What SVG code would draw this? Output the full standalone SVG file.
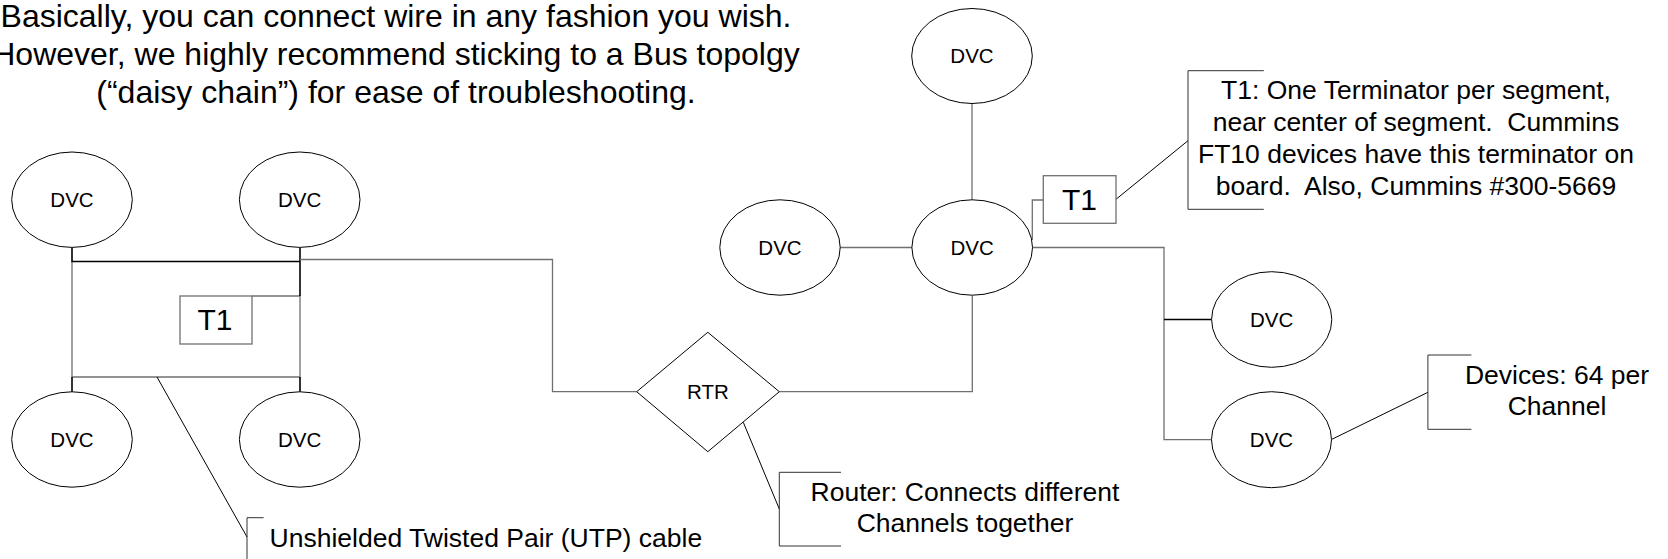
<svg xmlns="http://www.w3.org/2000/svg" width="1668" height="559" viewBox="0 0 1668 559">
<style>
text{font-family:"Liberation Sans",Arial,Helvetica,sans-serif;fill:#000}
.title{font-size:32px;text-anchor:middle}
.note{font-size:26.5px;text-anchor:middle}
.noteL{font-size:26.5px}
.dvc{font-size:20.5px;text-anchor:middle}
.t1{font-size:30px;text-anchor:middle}
.node{fill:#fff;stroke:#000;stroke-width:1}
.box{fill:#fff;stroke:#707070;stroke-width:1.3}
.wire{fill:none;stroke:#707070;stroke-width:1.3}
.blk{fill:none;stroke:#000;stroke-width:1.6}
.lead{fill:none;stroke:#000;stroke-width:1}
.brk{fill:none;stroke:#333;stroke-width:1}
</style>
<rect width="1668" height="559" fill="#fff"/>

<g id="title">
<text class="title" x="396" y="27">Basically, you can connect wire in any fashion you wish.</text>
<text class="title" x="396" y="65">However, we highly recommend sticking to a Bus topolgy</text>
<text class="title" x="396" y="103">(“daisy chain”) for ease of troubleshooting.</text>
</g>

<g id="connectors">
<!-- left cluster -->
<path class="wire" d="M72 261.5 V377 H300 V295"/>
<path class="wire" d="M252 296 H300"/>
<path class="blk" d="M72 247.5 V261.5 H300"/>
<path class="blk" d="M300 247.5 V296"/>
<path class="blk" d="M72 377 V392"/>
<path class="blk" d="M300 377 V392"/>
<!-- left cluster to router -->
<path class="wire" d="M300 259.5 H552.5 V391.7 H636.7"/>
<!-- router to central device -->
<path class="wire" d="M779.3 391.7 H972.3 V295.5"/>
<!-- central star -->
<path class="wire" d="M840 247.5 H912"/>
<path class="wire" d="M972 103.5 V200"/>
<path class="wire" d="M1043.3 200 H1032.3 V240"/>
<path class="wire" d="M1032.3 247.5 H1164 V439.7 H1211.6"/>
<path class="blk" d="M1164 319.5 H1211.6"/>
<!-- callout leaders -->
<path class="lead" d="M157 377 L247 537"/>
<path class="lead" d="M743.3 422.3 L779.3 509"/>
<path class="lead" d="M1116 199.3 L1188 140.7"/>
<path class="lead" d="M1331.9 439.3 L1427.9 392.3"/>
</g>

<g id="dvc-left-top-1"><ellipse class="node" cx="72" cy="199.7" rx="60.3" ry="47.7"/><text class="dvc" x="72" y="207">DVC</text></g>
<g id="dvc-left-top-2"><ellipse class="node" cx="299.7" cy="199.7" rx="60.3" ry="47.7"/><text class="dvc" x="299.7" y="207">DVC</text></g>
<g id="dvc-left-bottom-1"><ellipse class="node" cx="72" cy="439.5" rx="60.3" ry="47.7"/><text class="dvc" x="72" y="447">DVC</text></g>
<g id="dvc-left-bottom-2"><ellipse class="node" cx="299.7" cy="439.5" rx="60.3" ry="47.7"/><text class="dvc" x="299.7" y="447">DVC</text></g>

<g id="t1-left"><rect class="box" x="180" y="296" width="72" height="48"/><text class="t1" x="215" y="330">T1</text></g>

<g id="rtr"><polygon class="node" points="636.7,391.7 707.8,332.3 779.3,391.7 707.8,451.7"/><text class="dvc" x="708" y="398.5">RTR</text></g>

<g id="dvc-top"><ellipse class="node" cx="972" cy="56" rx="60.3" ry="47.5"/><text class="dvc" x="972" y="63">DVC</text></g>
<g id="dvc-mid-left"><ellipse class="node" cx="780" cy="247.5" rx="60.2" ry="47.7"/><text class="dvc" x="780" y="254.5">DVC</text></g>
<g id="dvc-center"><ellipse class="node" cx="972.2" cy="247.5" rx="60.3" ry="47.7"/><text class="dvc" x="972.2" y="254.5">DVC</text></g>
<g id="dvc-right-1"><ellipse class="node" cx="1271.7" cy="319.5" rx="60.1" ry="47.8"/><text class="dvc" x="1271.7" y="326.7">DVC</text></g>
<g id="dvc-right-2"><ellipse class="node" cx="1271.5" cy="439.7" rx="60" ry="48"/><text class="dvc" x="1271.5" y="446.7">DVC</text></g>

<g id="t1-right"><rect class="box" x="1043.3" y="175.7" width="72.7" height="47.6"/><text class="t1" x="1079.5" y="210">T1</text></g>

<g id="note-utp">
<path class="brk" d="M263.6 517.7 H247 V560"/>
<text class="noteL" x="269.6" y="546.7">Unshielded Twisted Pair (UTP) cable</text>
</g>

<g id="note-router">
<path class="brk" d="M841 472.3 H779.3 V546 H841"/>
<text class="note" x="965" y="501">Router: Connects different</text>
<text class="note" x="965" y="531.7">Channels together</text>
</g>

<g id="note-t1">
<path class="brk" d="M1263.8 70.7 H1188 V209.3 H1263.8"/>
<text class="note" x="1416" y="99.3" xml:space="preserve">T1: One Terminator per segment,</text>
<text class="note" x="1416" y="131" xml:space="preserve">near center of segment.  Cummins</text>
<text class="note" x="1416" y="163" xml:space="preserve">FT10 devices have this terminator on</text>
<text class="note" x="1416" y="195" xml:space="preserve">board.  Also, Cummins #300-5669</text>
</g>

<g id="note-devices">
<path class="brk" d="M1471.4 355 H1427.9 V429.3 H1471.4"/>
<text class="note" x="1557" y="384">Devices: 64 per</text>
<text class="note" x="1557" y="415">Channel</text>
</g>
</svg>
